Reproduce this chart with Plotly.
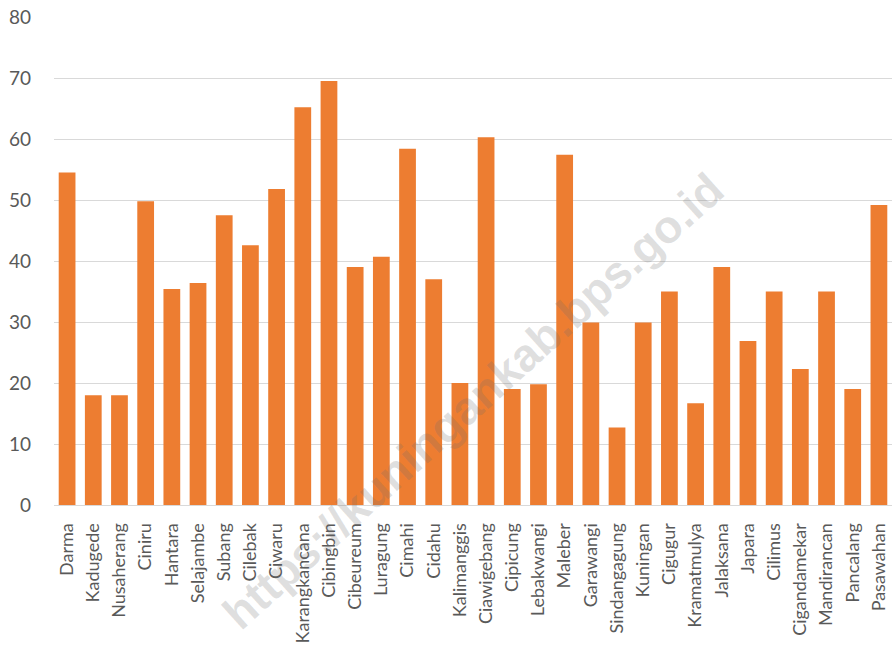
import plotly.graph_objects as go

categories = ["Darma", "Kadugede", "Nusaherang", "Ciniru", "Hantara", "Selajambe",
              "Subang", "Cilebak", "Ciwaru", "Karangkancana", "Cibingbin", "Cibeureum",
              "Luragung", "Cimahi", "Cidahu", "Kalimanggis", "Ciawigebang", "Cipicung",
              "Lebakwangi", "Maleber", "Garawangi", "Sindangagung", "Kuningan", "Cigugur",
              "Kramatmulya", "Jalaksana", "Japara", "Cilimus", "Cigandamekar", "Mandirancan",
              "Pancalang", "Pasawahan"]
values = [54.5, 18.0, 18.0, 49.8, 35.4, 36.4,
          47.5, 42.6, 51.8, 65.2, 69.5, 39.0,
          40.7, 58.4, 37.0, 20.0, 60.3, 19.0,
          19.8, 57.4, 29.9, 12.7, 29.9, 35.0,
          16.7, 39.0, 26.9, 35.0, 22.3, 35.0,
          19.0, 49.2]
y_ticks = [0, 10, 20, 30, 40, 50, 60, 70, 80]

fig = go.Figure(go.Bar(x=categories, y=values, marker_color="#ED7D31",
                       marker_line_width=0))

fig.update_layout(
    width=894, height=655,
    margin=dict(l=54, r=2, t=17, b=150),
    paper_bgcolor="white", plot_bgcolor="white",
    bargap=0.36, showlegend=False,
    font=dict(family="Lato, Carlito, sans-serif", color="#595959"),
)
fig.update_yaxes(range=[0, 80], tickvals=y_ticks, showgrid=True, gridcolor="#D9D9D9",
                 gridwidth=1.3, zeroline=False, showline=False,
                 tickfont=dict(size=19, color="#595959"), ticklabelstandoff=22)
fig.update_xaxes(tickangle=-90, showline=True, linecolor="#D9D9D9", linewidth=1,
                 tickfont=dict(size=18, color="#595959"), ticks="outside",
                 ticklen=10, tickcolor="rgba(0,0,0,0)")

fig.add_annotation(text="<b>https://kuningankab.bps.go.id</b>", x=0.5, y=0.5,
                   xref="paper", yref="paper", showarrow=False, textangle=-42,
                   font=dict(size=46, color="rgba(110,110,110,0.22)",
                             family="Liberation Sans, Arial, sans-serif"),
                   xshift=0, yshift=-140)

fig.write_html("out.html", config={"displayModeBar": False},
               post_script="document.body.style.margin='0';document.body.style.overflow='hidden';")
